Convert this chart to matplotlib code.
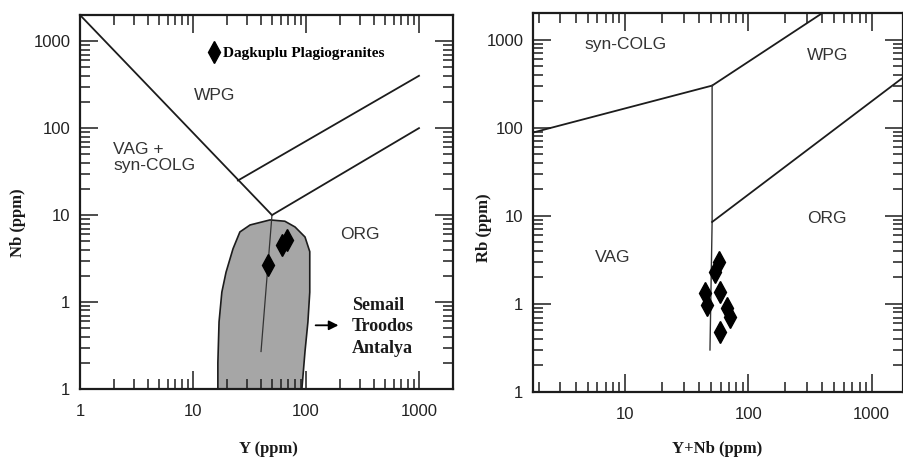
import numpy as np
import matplotlib.pyplot as plt
from matplotlib.ticker import LogLocator, NullFormatter

# --- Nb vs Y boundaries (left) ---
wpg_vag_y = [1, 50]
wpg_vag_nb = [2000, 10]
wpg_org_hi_y = [25, 1000]
wpg_org_hi_nb = [25, 400]
wpg_org_lo_y = [50, 1000]
wpg_org_lo_nb = [10, 100]
vag_org_y = [50, 40]
vag_org_nb = [10, 0.27]

# ophiolite plagiogranite field (Semail, Troodos, Antalya)
field_y = [48, 32, 26, 22.6, 19.6, 18, 17, 16.6, 16.6, 92, 98, 104, 108, 108, 98, 80, 65, 48]
field_nb = [8.8, 7.7, 6.4, 4.1, 2.2, 1.3, 0.59, 0.2, 0.1, 0.1, 0.27, 0.59, 1.3, 3.8, 5.6, 7.3, 8.5, 8.8]

# Dagkuplu samples
dag_y = [46, 61, 68]
dag_nb = [2.7, 4.5, 5.2]

# --- Rb vs Y+Nb boundaries (right) ---
syn_vag_ynb = [1.8, 51]
syn_vag_rb = [88, 300]
syn_wpg_ynb = [51, 400]
syn_wpg_rb = [300, 2000]
vag_wpg_ynb = [51, 51, 49]
vag_wpg_rb = [300, 8.5, 0.3]
org_wpg_ynb = [51, 1800]
org_wpg_rb = [8.5, 370]

dag_ynb = [58, 54, 44.6, 46, 59, 67, 71, 59]
dag_rb = [3.0, 2.3, 1.33, 0.97, 1.37, 0.9, 0.71, 0.48]

y_ticks = [0.1, 1, 10, 100, 1000]
y_labels = ['1', '1', '10', '100', '1000']

sans = ['Liberation Sans', 'DejaVu Sans']
serif = ['Liberation Serif', 'DejaVu Serif']
plt.rcParams['font.family'] = sans

fig = plt.figure(figsize=(9.04, 4.57), dpi=100)
ax1 = fig.add_axes([80 / 904, 1 - 389 / 457, 373 / 904, 374 / 457])
ax2 = fig.add_axes([533 / 904, 1 - 392 / 457, 370 / 904, 379 / 457])

lw = 1.3
ink = '#1c1c1c'
for ax in (ax1, ax2):
    ax.set_xscale('log')
    ax.set_yscale('log')
    for s in ax.spines.values():
        s.set_linewidth(1.6)
        s.set_color(ink)
    ax.tick_params(which='both', direction='in', top=True, right=True, width=1.1,
                   colors=ink, labelsize=12, labelcolor='#222222',
                   labelfontfamily='Liberation Sans')
    ax.tick_params(which='major', length=13)
    ax.tick_params(which='minor', length=7)
    ax.tick_params(axis='x', pad=11)
    ax.tick_params(axis='y', pad=7)
    ax.xaxis.set_minor_locator(LogLocator(base=10, subs=np.arange(2, 10)))
    ax.yaxis.set_minor_locator(LogLocator(base=10, subs=np.arange(2, 10)))

# left panel
ax1.set_xlim(1, 2000)
ax1.set_ylim(0.1, 2000)
ax1.set_xticks([1, 10, 100, 1000], ['1', '10', '100', '1000'])
ax1.set_yticks(y_ticks, y_labels)
ax1.xaxis.set_minor_formatter(NullFormatter())
ax1.yaxis.set_minor_formatter(NullFormatter())

ax1.fill(field_y, field_nb, facecolor='#a6a6a6', edgecolor=ink, lw=1.2, zorder=1)
ax1.plot(wpg_vag_y, wpg_vag_nb, color=ink, lw=lw)
ax1.plot(wpg_org_hi_y, wpg_org_hi_nb, color=ink, lw=lw)
ax1.plot(wpg_org_lo_y, wpg_org_lo_nb, color=ink, lw=lw)
ax1.plot(vag_org_y, vag_org_nb, color='#333333', lw=0.9)
ax1.plot(dag_y, dag_nb, ls='none', marker='d', ms=11, color='black',
         label='Dagkuplu Plagiogranites', zorder=3)

ax1.annotate('', xy=(205, 0.54), xytext=(115, 0.54),
             arrowprops=dict(arrowstyle='-|>', color='black', lw=1.3, mutation_scale=14))
ax1.text(0.729, 0.166, 'Semail\nTroodos\nAntalya', transform=ax1.transAxes,
         ha='left', va='center', fontsize=13, fontweight='bold', family=serif,
         linespacing=1.35, color='#1a1a1a')

lab = dict(fontsize=12.5, color='#333333', family=sans)
ax1.text(0.362, 0.786, 'WPG', transform=ax1.transAxes, ha='center', va='center', **lab)
ax1.text(0.0885, 0.62, 'VAG +\nsyn-COLG', transform=ax1.transAxes, ha='left', va='center',
         linespacing=1.1, **lab)
ax1.text(0.751, 0.412, 'ORG', transform=ax1.transAxes, ha='center', va='center', **lab)

ax1.legend(loc='center left', bbox_to_anchor=(0.33, 0.898), frameon=False,
           handlelength=0.6, handletextpad=0.3, borderaxespad=0,
           prop=dict(family=serif, weight='bold', size=11))

# right panel
ax2.set_xlim(1.8, 1800)
ax2.set_ylim(0.1, 2000)
ax2.set_xticks([10, 100, 1000], ['10', '100', '1000'])
ax2.set_yticks(y_ticks, y_labels)
ax2.xaxis.set_minor_formatter(NullFormatter())
ax2.yaxis.set_minor_formatter(NullFormatter())

ax2.plot(syn_vag_ynb, syn_vag_rb, color=ink, lw=lw)
ax2.plot(syn_wpg_ynb, syn_wpg_rb, color=ink, lw=lw)
ax2.plot(vag_wpg_ynb, vag_wpg_rb, color='#333333', lw=1.0)
ax2.plot(org_wpg_ynb, org_wpg_rb, color=ink, lw=lw)
ax2.plot(dag_ynb, dag_rb, ls='none', marker='d', ms=11, color='black', zorder=3)

ax2.text(0.251, 0.916, 'syn-COLG', transform=ax2.transAxes, ha='center', va='center', **lab)
ax2.text(0.797, 0.889, 'WPG', transform=ax2.transAxes, ha='center', va='center', **lab)
ax2.text(0.795, 0.459, 'ORG', transform=ax2.transAxes, ha='center', va='center', **lab)
ax2.text(0.216, 0.354, 'VAG', transform=ax2.transAxes, ha='center', va='center', **lab)

# axis titles
ttl = dict(fontsize=12, fontweight='bold', family=serif, color='#1a1a1a',
           ha='center', va='center')
fig.text(268 / 904, 1 - 449 / 457, 'Y (ppm)', **ttl)
fig.text(18 / 904, 1 - 223 / 457, 'Nb (ppm)', rotation=90, **ttl)
fig.text(717 / 904, 1 - 449 / 457, 'Y+Nb (ppm)', **ttl)
fig.text(484 / 904, 1 - 228 / 457, 'Rb (ppm)', rotation=90, **ttl)

fig.savefig('out.png', dpi=100)
